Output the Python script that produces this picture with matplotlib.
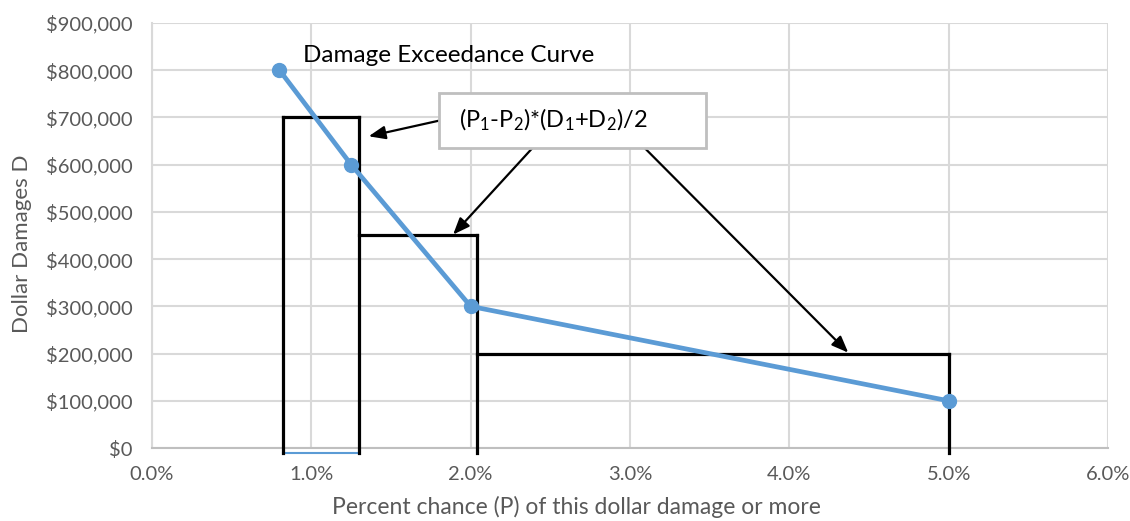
import matplotlib.pyplot as plt
from matplotlib.patches import Rectangle
from matplotlib.ticker import FuncFormatter

plt.rcParams['font.family'] = ['Lato', 'DejaVu Sans']
plt.rcParams['mathtext.fontset'] = 'custom'
plt.rcParams['mathtext.rm'] = 'Lato'
plt.rcParams['mathtext.it'] = 'Lato'

# Damage exceedance curve points
pct_chance = [0.8, 1.25, 2.0, 5.0]
damages = [800000, 600000, 300000, 100000]

# Trapezoid-area rectangles (left %, right %, height $)
rect_left = [0.82, 1.30, 2.04]
rect_right = [1.30, 2.04, 5.0]
rect_height = [700000, 450000, 200000]

x_ticks = [0, 1, 2, 3, 4, 5, 6]
y_ticks = [0, 100000, 200000, 300000, 400000, 500000, 600000, 700000, 800000, 900000]

BLUE = "#5b9bd5"
GRID = "#d9d9d9"
TEXT = "#595959"

fig = plt.figure(figsize=(11.3, 5.21), dpi=100)
ax = fig.add_axes([0.1345, 0.14, 0.846, 0.816])

ax.set_xlim(0, 6)
ax.set_ylim(0, 900000)
ax.set_xticks(x_ticks)
ax.set_yticks(y_ticks)
ax.xaxis.set_major_formatter(FuncFormatter(lambda v, p: f"{v:.1f}%"))
ax.yaxis.set_major_formatter(FuncFormatter(lambda v, p: f"${v:,.0f}"))
ax.tick_params(length=0, labelsize=14.5, labelcolor=TEXT)
ax.tick_params(axis="y", pad=14)
ax.tick_params(axis="x", pad=13)
ax.grid(True, color=GRID, linewidth=1.5)
ax.set_axisbelow(True)
for side in ["top", "right"]:
    ax.spines[side].set_visible(False)
ax.spines["left"].set_color(GRID)
ax.spines["left"].set_linewidth(1.5)
ax.spines["bottom"].set_color("#bfbfbf")
ax.spines["bottom"].set_linewidth(1.5)

ax.set_xlabel("Percent chance (P) of this dollar damage or more", fontsize=16.5,
              color=TEXT)
ax.xaxis.set_label_coords(0.444, -0.112)
ax.set_ylabel("Dollar Damages D", fontsize=16, color=TEXT)
ax.yaxis.set_label_coords(-0.126, 0.48)

# rectangles
lw = 2.3
bot = -10000
for i in range(len(rect_left)):
    l, r, h = rect_left[i], rect_right[i], rect_height[i]
    ax.plot([l, r], [h, h], color="black", lw=lw, clip_on=False, zorder=3)
    ax.plot([r, r], [h, bot], color="black", lw=lw, clip_on=False, zorder=3)
    if i == 0:
        ax.plot([l, l], [h, bot], color="black", lw=lw, clip_on=False, zorder=3)
        ax.plot([l, r], [bot, bot], color=BLUE, lw=1.5, clip_on=False, zorder=2)

# curve
ax.plot(pct_chance, damages, color=BLUE, lw=3.4, marker="o", markersize=10,
        zorder=4)
ax.text(0.95, 832000, "Damage Exceedance Curve", fontsize=17.5, color="black",
        va="center", ha="left")

# formula box
ax.add_patch(Rectangle((1.80, 636000), 1.68, 116000, fc="white", ec="#bfbfbf",
                       lw=2, zorder=6))
formula = r"(P$_1$-P$_2$)*(D$_1$+D$_2$)/2"
ax.text(2.52, 694000, formula, fontsize=17, color="black", ha="center",
        va="center", zorder=7)

arrow = dict(arrowstyle="-|>,head_length=1.0,head_width=0.4", color="black",
             lw=1.6, shrinkA=0, shrinkB=0)
ax.annotate("", xy=(1.36, 660000), xytext=(1.80, 693000), arrowprops=arrow, zorder=5)
ax.annotate("", xy=(1.89, 452000), xytext=(2.39, 636000), arrowprops=arrow, zorder=5)
ax.annotate("", xy=(4.37, 202000), xytext=(3.09, 636000), arrowprops=arrow, zorder=5)

fig.savefig("out.png", dpi=100)
